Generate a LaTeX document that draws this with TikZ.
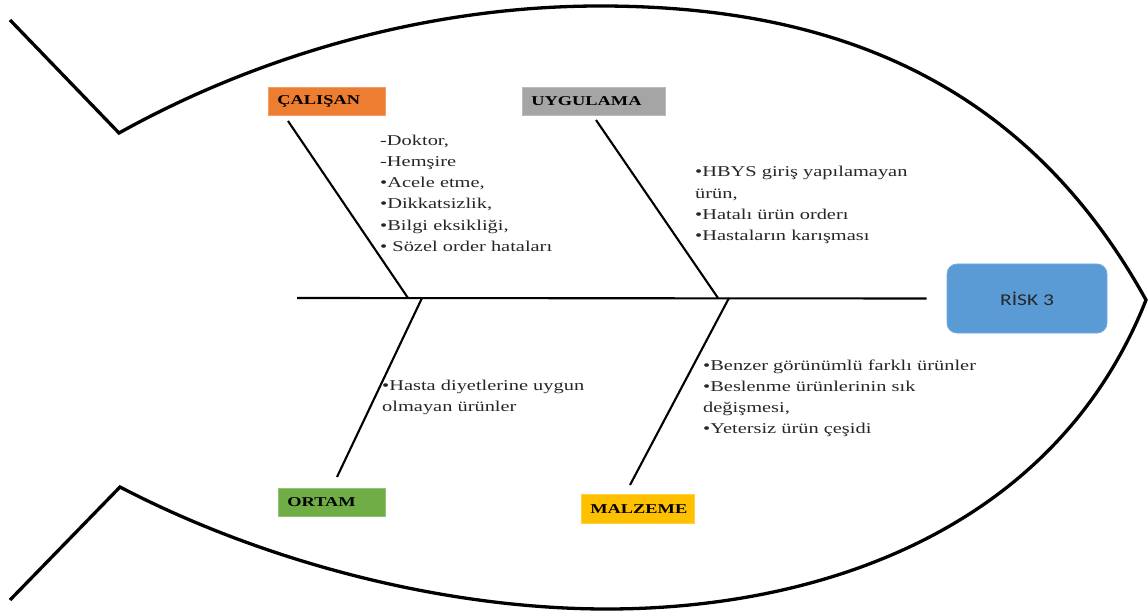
\documentclass[tikz,border=0pt]{standalone}
\usepackage{fontspec}
\setmainfont{Liberation Serif}[FakeStretch=1.36]
\newfontfamily\riskfont{Carlito}[FakeStretch=1.3]

\definecolor{catorange}{HTML}{ED7D31}
\definecolor{catgray}{HTML}{A5A5A5}
\definecolor{catgreen}{HTML}{70AD47}
\definecolor{catyellow}{HTML}{FFC000}
\definecolor{riskblue}{HTML}{5B9BD5}
\definecolor{bodytext}{HTML}{262626}

\begin{document}
\begin{tikzpicture}[x=1pt,y=-1pt,
  outline/.style={line width=3.3pt, black},
  bone/.style={line width=2.1pt, black},
  catbox/.style={anchor=north west, rectangle, draw=#1!75!white, line width=0.8pt,
    fill=#1, minimum height=28pt, inner xsep=9pt, inner ysep=0pt, align=left,
    font=\fontsize{13.5}{15}\selectfont\bfseries, text=black},
  causes/.style={anchor=north west, inner sep=0pt, align=left,
    font=\fontsize{15}{21.2}\selectfont, text=bodytext},
  riskbox/.style={rectangle, rounded corners=10pt, fill=riskblue, draw=riskblue!85!white,
    line width=0.8pt, minimum width=160pt, minimum height=69pt,
    font=\riskfont\fontsize{16.5}{18}\selectfont, text=black!85}
]
\useasboundingbox (0,0) rectangle (1148,612);

% fish body outline with tail
\draw[outline] (10,20) -- (119,133)
  .. controls (250,60) and (420,6) .. (600,6)
  .. controls (820,6) and (1020,72) .. (1146,300)
  .. controls (1055,530) and (820,609) .. (607,609)
  .. controls (440,609) and (260,560) .. (120,487)
  -- (10,600);

% head
\node[riskbox] (risk) at (1027,298.5) {RİSK 3};

% spine
\coordinate (spinestart) at (297,298);
\draw[bone] (spinestart) -- ([xshift=-20pt]risk.west);

% category boxes
\node[catbox=catorange, text width=99pt] (calisan) at (268,87) {ÇALIŞAN};
\node[catbox=catgray, text width=125pt] (uygulama) at (522,87) {UYGULAMA};
\node[catbox=catgreen, text width=89pt] (ortam) at (278,488) {ORTAM};
\node[catbox=catyellow, text width=95pt, minimum height=29pt] (malzeme) at (581,494) {MALZEME};

% bones: from just beside each box to the spine
\coordinate (b1) at (288,121);  \coordinate (j1) at (408,298);
\coordinate (b2) at (596,120);  \coordinate (j2) at (718,298);
\coordinate (b3) at (337,477);  \coordinate (j3) at (422,298);
\coordinate (b4) at (630,485);  \coordinate (j4) at (729,298);
\draw[bone] (b1) -- (j1);
\draw[bone] (b2) -- (j2);
\draw[bone] (b3) -- (j3);
\draw[bone] (b4) -- (j4);

% cause lists
\node[causes] (c1) at (380,130.2) {\strut-Doktor,\\-Hemşire\\•Acele etme,\\•Dikkatsizlik,\\•Bilgi eksikliği,\\• Sözel order hataları};
\node[causes] (c2) at (695,161.9) {\strut•HBYS giriş yapılamayan\\ürün,\\•Hatalı ürün orderı\\•Hastaların karışması};
\node[causes] (c3) at (382,375.2) {\strut•Hasta diyetlerine uygun\\olmayan ürünler};
\node[causes] (c4) at (703,355.2) {\strut•Benzer görünümlü farklı ürünler\\•Beslenme ürünlerinin sık\\değişmesi,\\•Yetersiz ürün çeşidi};
\end{tikzpicture}
\end{document}
